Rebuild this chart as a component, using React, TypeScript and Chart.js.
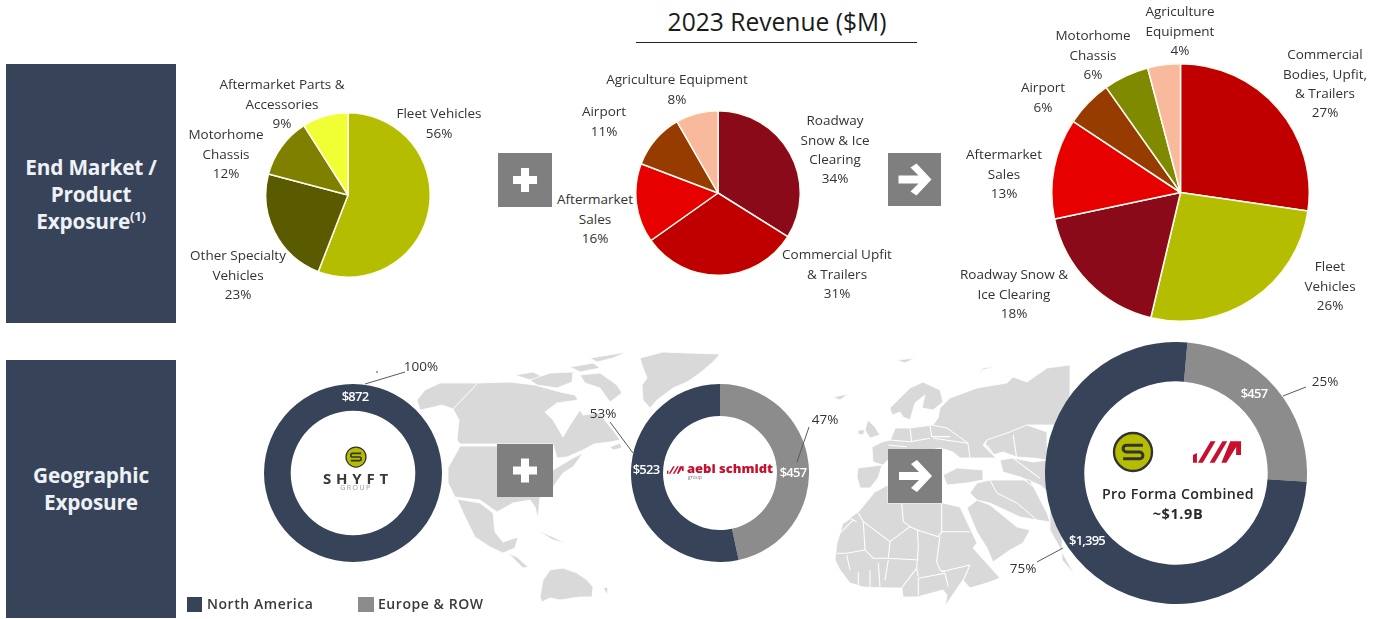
import React, { useEffect, useRef } from "react";
import { Chart, registerables } from "chart.js";

Chart.register(...registerables);

// ---------- data ----------
const shyftLabels = ["Fleet Vehicles", "Other Specialty\nVehicles", "Motorhome\nChassis", "Aftermarket Parts &\nAccessories"];
const shyftValues = [55.9, 23.2, 11.9, 9.0];
const shyftColors = ["#b5bd00", "#5a5a00", "#7f8000", "#f0ff33"];

const aebiLabels = ["Roadway\nSnow & Ice\nClearing", "Commercial Upfit\n& Trailers", "Aftermarket\nSales", "Airport", "Agriculture Equipment"];
const aebiValues = [33.9, 31.3, 15.6, 10.9, 8.3];
const aebiColors = ["#8a0a1a", "#c00000", "#e60000", "#963c00", "#f9b99c"];

const combinedLabels = ["Commercial\nBodies, Upfit,\n& Trailers", "Fleet\nVehicles", "Roadway Snow &\nIce Clearing", "Aftermarket\nSales", "Airport", "Motorhome\nChassis", "Agriculture\nEquipment"];
const combinedValues = [27.3, 26.4, 18.0, 12.6, 5.9, 5.7, 4.1];
const combinedColors = ["#c00000", "#b5bd00", "#8a0a1a", "#e60000", "#963c00", "#7f8a00", "#f9b99c"];

const regionNames = ["North America", "Europe & ROW"];
const NAVY = "#374359";
const GREY = "#8c8c8c";

const shyftGeoValues = [872];
const shyftGeoShares = [100];
const aebiGeoValues = [457, 523];
const aebiGeoShares = [47, 53];
const combinedGeoValues = [457, 1395];
const combinedGeoShares = [25, 75];

// ---------- layout ----------
const shyftLabelPos = [[439, 114], [238, 256], [226, 135], [282, 85]];
const aebiLabelPos = [[835, 121], [837, 255], [595, 200], [604, 112], [677, 80]];
const combinedLabelPos = [[1325, 55], [1330, 267], [1014, 275], [1004, 155], [1043, 88], [1093, 36], [1180, 12]];

const FONT = "'Open Sans', 'Noto Sans', sans-serif";
const LEAD = 19.2;

const whiteHole = {
  id: "whiteHole",
  beforeDatasetsDraw(chart: any) {
    const arc = chart.getDatasetMeta(0).data[0];
    if (!arc || !arc.innerRadius) return;
    const { ctx } = chart;
    ctx.save();
    ctx.fillStyle = "#fff";
    ctx.beginPath();
    ctx.arc(arc.x, arc.y, arc.innerRadius + 1, 0, Math.PI * 2);
    ctx.fill();
    ctx.restore();
  },
};

function Round(props: { labels: string[]; values: number[]; colors: string[]; cx: number; cy: number; r: number; cutout?: string; rotation?: number; border?: number }) {
  const ref = useRef<HTMLCanvasElement>(null);
  const { labels, values, colors, cx, cy, r, cutout, rotation, border } = props;
  useEffect(() => {
    const chart = new Chart(ref.current as HTMLCanvasElement, {
      type: cutout ? "doughnut" : "pie",
      data: {
        labels,
        datasets: [{ data: values, backgroundColor: colors, borderColor: "#fffdf0", borderWidth: border ?? 0 }],
      },
      options: {
        responsive: false,
        animation: false,
        cutout: cutout ?? 0,
        rotation: rotation ?? 0,
        layout: { padding: 0 },
        plugins: { legend: { display: false }, tooltip: { enabled: false } },
      },
      plugins: [whiteHole],
    } as any);
    return () => chart.destroy();
  }, []);
  const b = border ?? 0;
  const size = Math.round(2 * r + b);
  return (
    <canvas
      ref={ref}
      width={size}
      height={size}
      style={{ position: "absolute", left: cx - size / 2, top: cy - size / 2, width: size, height: size }}
    />
  );
}

function Label({ x, y, text, size = 13.5, color = "#333", weight = 400, lead = LEAD, spacing = 0 }: any) {
  return (
    <div
      style={{
        position: "absolute",
        left: x,
        top: y - lead / 2,
        transform: "translateX(-50%)",
        whiteSpace: "pre",
        textAlign: "center",
        font: `${weight} ${size}px/${lead}px ${FONT}`,
        letterSpacing: spacing,
        color,
      }}
    >
      {text}
    </div>
  );
}

function Panel({ top, height, shift, lines }: { top: number; height: number; shift: number; lines: React.ReactNode }) {
  return (
    <div
      style={{
        position: "absolute",
        left: 6,
        top,
        width: 170,
        height,
        background: NAVY,
        color: "#eef1f5",
        display: "flex",
        alignItems: "center",
        justifyContent: "center",
        textAlign: "center",
        font: `700 20.8px/27px ${FONT}`,
        letterSpacing: -0.2,
      }}
    >
      <div style={{ marginTop: shift }}>{lines}</div>
    </div>
  );
}

function Plus({ x, y, w, h }: any) {
  return (
    <div style={{ position: "absolute", left: x, top: y, width: w, height: h, background: "#7f7f7f" }}>
      <svg width={w} height={h} style={{ display: "block" }}>
        <g transform={`translate(${w / 2},${h / 2})`} fill="#fff">
          <rect x={-12} y={-4} width={24} height={8} />
          <rect x={-4} y={-12} width={8} height={24} />
        </g>
      </svg>
    </div>
  );
}

function Arrow({ x, y, w, h }: any) {
  return (
    <div style={{ position: "absolute", left: x, top: y, width: w, height: h, background: "#7f7f7f" }}>
      <svg width={w} height={h} style={{ display: "block" }}>
        <polygon transform={`translate(${w / 2},${h / 2})`} fill="#fff" points="-16,-4 4,-4 -4,-12 2,-16 17,0 2,16 -4,12 4,4 -16,4" />
      </svg>
    </div>
  );
}

function SLogo({ x, y, r }: any) {
  const p = (v: number) => (v * r).toFixed(2);
  const d = `M${p(0.52)},${p(-0.36)} H${p(-0.34)} A${p(0.18)} ${p(0.18)} 0 0 0 ${p(-0.34)},0 H${p(0.34)} A${p(0.18)} ${p(0.18)} 0 0 1 ${p(0.34)},${p(0.36)} H${p(-0.52)}`;
  return (
    <svg style={{ position: "absolute", left: x - r - 2, top: y - r - 2 }} width={2 * r + 4} height={2 * r + 4}>
      <g transform={`translate(${r + 2},${r + 2})`}>
        <circle r={r} fill="#b5bd00" stroke="#333" strokeWidth={r / 8} />
        <path d={d} fill="none" stroke="#333" strokeWidth={r * 0.16} />
      </g>
    </svg>
  );
}

function Slashes({ x, y, w, h }: any) {
  return (
    <svg style={{ position: "absolute", left: x, top: y }} width={w} height={h} viewBox="0 0 50 22">
      <g fill="#c8102e">
        <polygon points="0,22 4,22 4,12 0,14" />
        <polygon points="5,22 10,22 23,0 18,0" />
        <polygon points="17,22 22,22 35,0 30,0" />
        <polygon points="29,22 34,22 44,6 44,14 49,14 49,0 38,0" />
      </g>
    </svg>
  );
}

// Decorative backdrop, in page coordinates.
const land = [
  // Arctic islands and Greenland
  "640,358 663,352 687,353 720,354 713,362 700,373 687,382 673,388 657,400 650,408 643,400 642,385 647,378 643,368",
  "515,375 533,372 543,377 530,380",
  "530,380 550,373 573,372 572,382 557,388 537,385",
  "570,367 593,363 600,368 580,372",
  "590,358 627,352 613,358 597,362",
  "580,375 600,373 617,385 622,393 610,402 600,388 585,383",
  // Alaska, Canada, USA, Mexico and on south
  "417,400 425,390 440,383 478,383 453,409 442,405 430,408 420,410",
  "478,383 510,382 535,385 560,392 575,395 578,400 557,403 545,412 553,420 563,437 570,425 580,410 583,415 600,413 607,423 613,430 620,440 610,442 594,444 583,450 567,457 557,458 553,444 460,444 457,440 459,420 453,409",
  "460,446 553,446 553,470 573,458 583,453 573,467 563,473 553,487 540,497 538,518 535,507 530,500 513,503 497,512 480,500 455,497 448,483 448,468 458,450",
  "457,499 480,503 493,513 495,532 503,542 518,537 515,548 503,553 490,547 475,537 465,517",
  "507,553 517,557 528,567 523,568 512,557",
  "610,447 620,443 622,448 613,450",
  "537,530 553,537 565,543 553,540",
  "540,597 543,580 550,570 563,568 577,573 587,580 593,587 592,597 580,597 573,598 560,600 550,598 542,602",
  "603,587 608,588 607,595",
  // Europe and northern Asia
  "897,360 915,358 905,363",
  "977,377 983,368 997,366 983,370",
  "833,397 848,394 840,400",
  "868,420 875,427 880,435 870,438 865,430",
  "858,430 865,430 863,435 858,434",
  "890,408 910,388 923,382 940,390 943,402 933,410 922,408 925,395 915,403 910,420 903,417 900,412 892,415",
  "872,447 882,442 890,440 895,428 910,428 933,425 947,428 968,443 970,458 960,458 953,452 940,448 888,460 883,465 873,462",
  "858,468 882,465 878,478 870,488 860,488 857,477",
  "940,408 950,398 977,388 1007,383 1013,377 1027,382 1047,368 1070,365 1070,425 1047,425 1027,425 1010,432 987,440 983,445 996,458 970,458 968,443 947,428 933,425 938,418",
  "987,440 1010,432 1027,425 1047,432 1047,460 1033,458 1017,457 1003,452 993,455 985,445",
  "1000,460 1013,458 1033,462 1048,460 1048,492 1040,485 1020,477 1003,472",
  "943,475 957,468 983,470 983,480 967,483 947,485",
  // Africa
  "835,560 837,543 843,523 858,512 873,493 888,485 888,503 942,503 943,503 960,507 977,543 973,548 982,558 1000,578 987,583 970,588 963,580 945,607 947,595 943,590 917,597 903,597 902,588 890,588 863,587 850,583 840,570",
  // Middle East and south Asia
  "967,508 977,500 990,505 1017,527 1030,530 1023,543 1010,550 993,562 987,548 977,532",
  "970,493 977,483 990,480 997,493 1017,503 1037,520 1020,517 990,503 977,500",
  "990,480 1030,480 1047,513 1050,522 1037,520 1017,503 997,493",
  "1050,480 1062,540 1062,560 1075,575 1083,590 1072,570 1050,530",
];

// Country borders: white lines over Africa, in units of one third of a pixel.
const africaBorders = [
  "335,70 335,155 420,155",
  "215,70 220,125 240,140 180,185 100,125 85,100",
  "240,140 262,150 325,170 335,155",
  "262,150 265,200 260,265 265,290",
  "330,170 320,245 330,270 345,275",
  "180,185 175,235 265,240",
  "100,125 105,210 50,220 20,220",
  "105,210 130,235 175,235",
  "50,225 60,270",
  "85,275 85,315",
  "120,270 120,320",
  "145,250 150,320",
  "175,240 165,300",
  "260,265 225,310 215,325",
  "265,295 345,280 355,320",
  "265,295 265,345",
  "335,275 420,255 400,300 345,380",
  "40,130 60,115 80,125",
  "25,165 70,120",
  "85,95 130,40",
];

const europeBorders = [
  "150,285 210,290 270,280",
  "210,250 215,290",
  "270,240 275,275 330,275",
  "280,280 385,295",
  "165,250 150,285",
  "145,300 200,305",
  "520,270 530,340",
  "440,300 470,340 500,330",
  "520,340 600,400",
  "540,395 600,440",
];

function WorldMap() {
  return (
    <svg style={{ position: "absolute", left: 0, top: 0 }} width={1382} height={619}>
      <g fill="#d9d9d9" stroke="#fff" strokeWidth={0.8} strokeLinejoin="round">
        {land.map((p, i) => (
          <polygon key={i} points={p} />
        ))}
      </g>
      <g fill="none" stroke="#fff" strokeWidth={3.2} strokeLinejoin="round">
        <g transform="translate(830,480) scale(0.3333)">
          {africaBorders.map((p, i) => (
            <polyline key={i} points={p} />
          ))}
        </g>
        <g transform="translate(840,345) scale(0.3333)">
          {europeBorders.map((p, i) => (
            <polyline key={i} points={p} />
          ))}
        </g>
      </g>
    </svg>
  );
}

function Leaders() {
  const segs = [
    [365, 384, 405, 372],
    [610, 422, 633, 453],
    [809, 427, 797, 462],
    [1306, 387, 1283, 396],
    [1037, 562, 1063, 548],
  ];
  return (
    <svg style={{ position: "absolute", left: 0, top: 0 }} width={1382} height={619}>
      {segs.map((s, i) => (
        <line key={i} x1={s[0]} y1={s[1]} x2={s[2]} y2={s[3]} stroke="#595959" strokeWidth={1} />
      ))}
      <circle cx={377} cy={372} r={0.8} fill="#333" />
    </svg>
  );
}

function pieLabels(names: string[], vals: number[], pos: number[][]) {
  return names.map((n, i) => <Label key={n} x={pos[i][0]} y={pos[i][1]} text={`${n}\n${Math.round(vals[i])}%`} />);
}

function money(v: number) {
  return "$" + v.toLocaleString("en-US");
}

export default function App() {
  const vl = { size: 13, color: "#fff", weight: 600, spacing: -0.8 };
  const legendText = { position: "absolute", top: 595, font: `600 14px/18px ${FONT}`, color: "#3a3a3a", letterSpacing: 0.55, whiteSpace: "pre" } as const;
  return (
    <div style={{ position: "absolute", left: 0, top: 0, width: 1382, height: 619, overflow: "hidden", background: "#fff" }}>
      <WorldMap />

      <Panel top={64} height={259} shift={2} lines={<>End Market /<br />Product<br />Exposure<sup style={{ fontSize: 13, lineHeight: 0 }}>(1)</sup></>} />
      <Panel top={360} height={258} shift={0} lines={<>Geographic<br />Exposure</>} />

      <Label x={777} y={22} text="2023 Revenue ($M)" size={24.6} color="#1a1a1a" lead={32} />
      <div style={{ position: "absolute", left: 636, top: 41.5, width: 281, height: 1.5, background: "#222" }} />

      <Round labels={shyftLabels} values={shyftValues} colors={shyftColors} cx={348} cy={195} r={82} border={1.5} />
      <Round labels={aebiLabels} values={aebiValues} colors={aebiColors} cx={717.7} cy={192.7} r={82} border={1.5} />
      <Round labels={combinedLabels} values={combinedValues} colors={combinedColors} cx={1180.7} cy={192.7} r={128.5} border={1.5} />

      <Round labels={[regionNames[0]]} values={shyftGeoValues} colors={[NAVY]} cx={353} cy={472.7} r={89} cutout="70%" />
      <Round labels={[regionNames[1], regionNames[0]]} values={aebiGeoValues} colors={[GREY, NAVY]} cx={720} cy={472.7} r={89} cutout="64%" />
      <Round labels={[regionNames[1], regionNames[0]]} values={combinedGeoValues} colors={[GREY, NAVY]} cx={1175.7} cy={473} r={131} cutout="70%" rotation={5} />

      {pieLabels(shyftLabels, shyftValues, shyftLabelPos)}
      {pieLabels(aebiLabels, aebiValues, aebiLabelPos)}
      {pieLabels(combinedLabels, combinedValues, combinedLabelPos)}

      <Plus x={498} y={153} w={54} h={54} />
      <Arrow x={888} y={153} w={53} h={53} />
      <Plus x={497} y={444} w={56} h={53} />
      <Arrow x={888} y={449} w={54} h={54} />

      <Leaders />

      <Label x={355} y={397} text={money(shyftGeoValues[0])} {...vl} />
      <Label x={646} y={470} text={money(aebiGeoValues[1])} {...vl} />
      <Label x={793} y={473} text={money(aebiGeoValues[0])} {...vl} />
      <Label x={1254} y={394} text={money(combinedGeoValues[0])} {...vl} />
      <Label x={1087} y={541} text={money(combinedGeoValues[1])} {...vl} />

      <Label x={421} y={367} text={`${shyftGeoShares[0]}%`} />
      <Label x={603} y={414} text={`${aebiGeoShares[1]}%`} />
      <Label x={825} y={420} text={`${aebiGeoShares[0]}%`} />
      <Label x={1325} y={382} text={`${combinedGeoShares[0]}%`} />
      <Label x={1023} y={569} text={`${combinedGeoShares[1]}%`} />

      <SLogo x={356} y={457} r={10} />
      <Label x={358} y={478} text="SHYFT" size={15} weight={700} color="#3a3a3a" spacing={4.8} lead={16} />
      <Label x={356} y={488} text="GROUP" size={7} color="#999" spacing={1.5} lead={8} />

      <Slashes x={667} y={466} w={17} h={8} />
      <Label x={730} y={468} text="aebi schmidt" size={13} weight={800} color="#c8102e" lead={16} />
      <Label x={695} y={477} text="group" size={5} color="#777" lead={6} />

      <SLogo x={1133} y={452} r={19} />
      <Slashes x={1193} y={441} w={49} h={22} />
      <Label x={1178} y={494} text="Pro Forma Combined" size={14.2} weight={600} color="#2a2a2a" lead={18} spacing={0.4} />
      <Label x={1178} y={514} text="~$1.9B" size={14.5} weight={700} color="#2a2a2a" lead={18} spacing={0.6} />

      <div style={{ position: "absolute", left: 187, top: 597, width: 15, height: 15, background: NAVY }} />
      <div style={{ ...legendText, left: 207 }}>{regionNames[0]}</div>
      <div style={{ position: "absolute", left: 358, top: 597, width: 16, height: 15, background: GREY }} />
      <div style={{ ...legendText, left: 378 }}>{regionNames[1]}</div>
    </div>
  );
}
